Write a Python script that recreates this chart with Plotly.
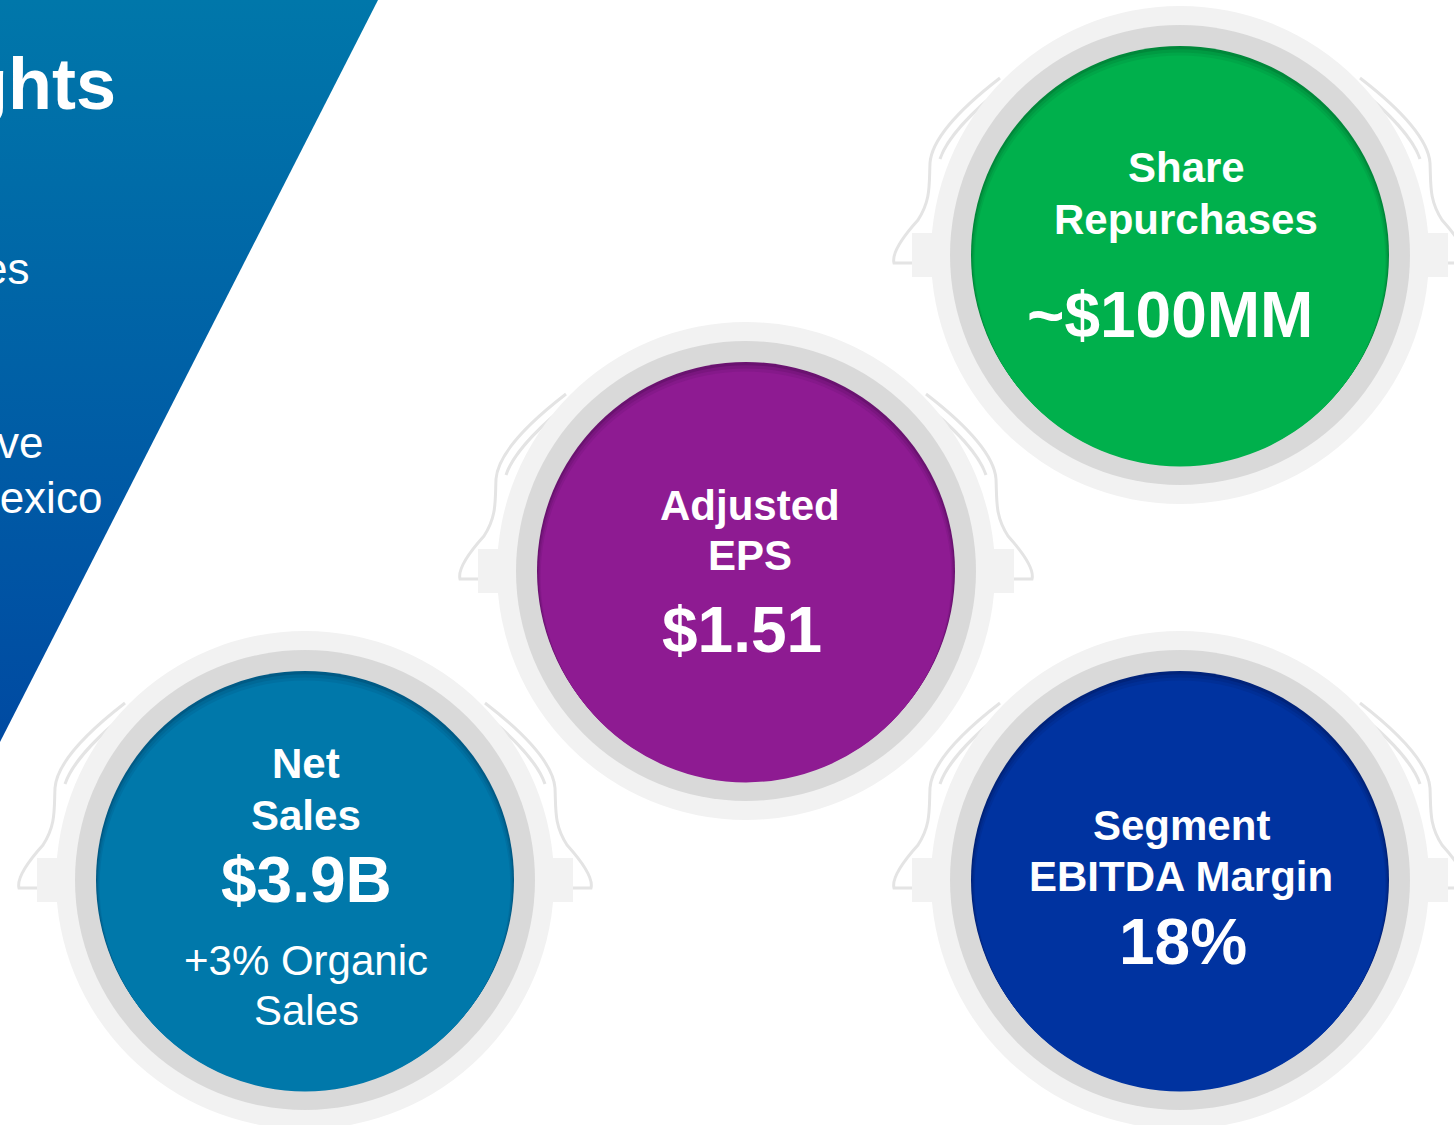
"""Highlights slide: four metric 'paint bucket' badges beside a blue banner."""

import plotly.graph_objects as go

# ---- data -----------------------------------------------------------------
METRIC_TITLES = [
    ["Net", "Sales"],
    ["Adjusted", "EPS"],
    ["Share", "Repurchases"],
    ["Segment", "EBITDA Margin"],
]
METRIC_VALUES = ["$3.9B", "$1.51", "~$100MM", "18%"]
METRIC_NOTES = [["+3% Organic", "Sales"], [], [], []]

BANNER_TITLE = "Highlights"
BANNER_LINES = ["es", "ve", "Mexico"]

# ---- layout / style -------------------------------------------------------
W, H = 1454, 1125
CENTERS = [(305, 880), (746, 571), (1180, 255), (1180, 880)]
FILL = ["#0078AA", "#8E1B92", "#00B04C", "#0033A0"]
SHADE = ["#005A85", "#6A1270", "#00883A", "#00237A"]
LIGHT = "#F2F2F2"
RING = "#D9D9D9"
STRAP = "#E4E4E4"
R_LIGHT, R_RING, R_FILL = 249, 230, 209

FONT = "Liberation Sans, Arial, sans-serif"

# line offsets (dy from centre) per badge: titles, value, notes
TITLE_DY = [[-117, -65], [-66, -16], [-88, -36], [-55, -4]]
VALUE_DY = [0, 59, 60, 62]
NOTE_DY = [[80, 130], [], [], []]
TEXT_DX = [1, 4, 6, 1]
VALUE_DX = [1, -4, -10, 3]


def mix(c1, c2, t):
    """Blend two hex colours, t=0 -> c1, t=1 -> c2."""
    a = [int(c1[k:k + 2], 16) for k in (1, 3, 5)]
    b = [int(c2[k:k + 2], 16) for k in (1, 3, 5)]
    return "#" + "".join(f"{round(x + (y - x) * t):02X}" for x, y in zip(a, b))


def circle(cx, cy, r, color, dy=0):
    return dict(
        type="circle", xref="x", yref="y",
        x0=cx - r, x1=cx + r, y0=cy - r + dy, y1=cy + r + dy,
        fillcolor=color, line_width=0, layer="above",
    )


def strap(cx, cy, side):
    """Thin outlined handle strap on one side of a bucket."""
    pts_outer = [(-180, -177), (-215, -150), (-248, -118), (-250, -92),
                 (-251, -70), (-249, -55), (-262, -35), (-280, -15),
                 (-288, 0), (-286, 8), (-268, 8)]
    pts_inner = [(-172, -172), (-200, -150), (-232, -120), (-240, -96)]

    def to_path(pts):
        x0, y0 = pts[0]
        d = f"M {cx + side * -x0} {cy + y0}"
        rest = pts[1:]
        # cubic segments in groups of three, leftovers as lines
        while len(rest) >= 3:
            (a, b), (c, e), (f, g) = rest[:3]
            d += (f" C {cx + side * -a} {cy + b} {cx + side * -c} {cy + e}"
                  f" {cx + side * -f} {cy + g}")
            rest = rest[3:]
        for a, b in rest:
            d += f" L {cx + side * -a} {cy + b}"
        return d

    return [
        dict(type="path", path=to_path(p), xref="x", yref="y",
             line=dict(color=STRAP, width=3),
             fillcolor="rgba(0,0,0,0)", layer="above")
        for p in (pts_outer, pts_inner)
    ]


def ears(cx, cy):
    out = []
    for side in (-1, 1):
        xa = cx + side * 246
        xb = cx + side * 268
        out.append(dict(
            type="rect", xref="x", yref="y",
            x0=min(xa, xb), x1=max(xa, xb), y0=cy - 22, y1=cy + 22,
            fillcolor=LIGHT, line_width=0, layer="above",
        ))
    return out


fig = go.Figure()

# blue banner with vertical gradient
fig.add_trace(go.Scatter(
    x=[0, 378, 0, 0], y=[0, 0, 742, 0],
    mode="lines", line=dict(width=0), fill="toself",
    fillgradient=dict(
        type="vertical", start=0, stop=742,
        colorscale=[[0, "#0077AA"], [1, "#004AA2"]],
    ),
    hoverinfo="skip", showlegend=False,
))

shapes = []
order = [1, 0, 2, 3]
for i in order:
    cx, cy = CENTERS[i]
    shapes += strap(cx, cy, 1)
    shapes += strap(cx, cy, -1)
    shapes += ears(cx, cy)
    shapes.append(circle(cx, cy, R_LIGHT, LIGHT))
    shapes.append(circle(cx, cy, R_RING, RING))
    shapes.append(circle(cx, cy, R_FILL, SHADE[i]))
    # soft inner shadow at the top edge
    for step, t in ((2, 0.45), (4, 0.75), (6, 1.0)):
        shapes.append(circle(cx, cy, R_FILL - step * 0.6,
                             mix(SHADE[i], FILL[i], t), dy=step))

annotations = []


def label(x, y, text, size, bold=True, xanchor="center"):
    annotations.append(dict(
        x=x, y=y, xref="x", yref="y", text=f"<b>{text}</b>" if bold else text,
        showarrow=False, xanchor=xanchor, yanchor="middle",
        font=dict(family=FONT, size=size, color="white"),
    ))


for i, (cx, cy) in enumerate(CENTERS):
    for line, dy in zip(METRIC_TITLES[i], TITLE_DY[i]):
        label(cx + TEXT_DX[i], cy + dy, line, 42)
    label(cx + VALUE_DX[i], cy + VALUE_DY[i], METRIC_VALUES[i], 64)
    for line, dy in zip(METRIC_NOTES[i], NOTE_DY[i]):
        label(cx + TEXT_DX[i], cy + dy, line, 42, bold=False)

# banner text, cut off by the left edge as on the slide
label(118, 84, BANNER_TITLE, 72, xanchor="right")
for line, (xr, y) in zip(BANNER_LINES, [(31, 268), (45, 442), (104, 497)]):
    label(xr, y, line, 44, bold=False, xanchor="right")

fig.update_layout(
    width=W, height=H,
    margin=dict(l=0, r=0, t=0, b=0),
    paper_bgcolor="white", plot_bgcolor="white",
    xaxis=dict(range=[0, W], visible=False, fixedrange=True),
    yaxis=dict(range=[H, 0], visible=False, fixedrange=True),
    shapes=shapes, annotations=annotations, showlegend=False,
)

fig.write_html(
    "out.html",
    config={"displayModeBar": False},
    post_script="document.body.style.margin = '0';",
)
